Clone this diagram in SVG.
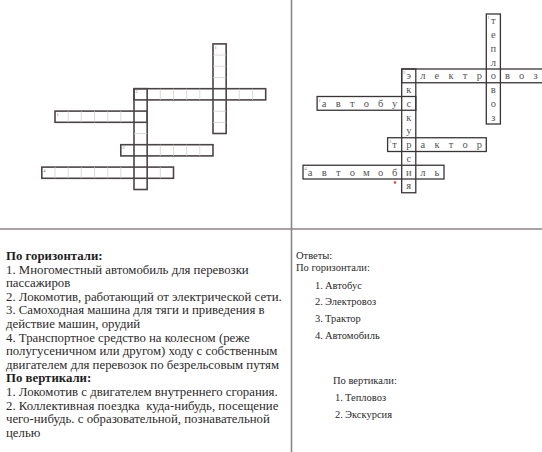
<svg xmlns="http://www.w3.org/2000/svg" width="542" height="452" viewBox="0 0 542 452">
<style>
.bg{fill:#ffffff}
.div{stroke:#8c8585;stroke-width:1.6;fill:none}
.lbox{fill:none;stroke:#4d4545;stroke-width:1.6}
.linner{stroke:#cfcaca;stroke-width:0.7}
.rbox{fill:none;stroke:#3a3535;stroke-width:1.3}
.lt{font-family:"Liberation Serif","DejaVu Serif",serif;font-size:10.5px;fill:#555;text-anchor:middle}
.num{font-family:"Liberation Serif",serif;font-size:4.5px;fill:#777}
.t{font-family:"Liberation Serif","DejaVu Serif",serif;font-size:12.8px;fill:#2b2b2b}
.tb{font-family:"Liberation Serif","DejaVu Serif",serif;font-size:12.8px;fill:#1e1e1e;font-weight:bold}
.r{font-family:"Liberation Serif","DejaVu Serif",serif;font-size:10.5px;fill:#2b2b2b}
</style>
<rect class="bg" x="0" y="0" width="542" height="452"/>

<g id="dividers">
<line class="div" x1="291.5" y1="0" x2="291.5" y2="452"/>
<line class="div" x1="0" y1="229" x2="542" y2="229"/>
</g>

<!-- Left blank crossword -->
<g id="left-grid">
<g id="l-teplovoz">
<rect class="lbox" x="213" y="43.9" width="13.17" height="89.6"/>
<path class="linner" d="M213 55.1h13.17M213 66.3h13.17M213 77.5h13.17M213 100.1h13.17M213 111.3h13.17M213 122.5h13.17"/>
<text class="num" x="214.5" y="48.5">1</text>
</g>
<g id="l-elektrovoz">
<rect class="lbox" x="134" y="88.7" width="131.7" height="11.2"/>
<path class="linner" d="M160.3 88.7v11.2M173.5 88.7v11.2M186.7 88.7v11.2M199.8 88.7v11.2M239.3 88.7v11.2M252.5 88.7v11.2"/>
<text class="num" x="135.5" y="93.3">2</text>
</g>
<g id="l-ekskursiya">
<rect class="lbox" x="134" y="88.7" width="13.17" height="100.8"/>
<path class="linner" d="M134 133.5h13.17M134 178.3h13.17"/>
</g>
<g id="l-avtobus">
<rect class="lbox" x="55" y="111.1" width="92.2" height="11.2"/>
<path class="linner" d="M68.2 111.1v11.2M81.3 111.1v11.2M94.5 111.1v11.2M107.7 111.1v11.2M120.8 111.1v11.2"/>
<text class="num" x="56.5" y="115.7">1</text>
</g>
<g id="l-traktor">
<rect class="lbox" x="120.8" y="144.7" width="92.2" height="11.2"/>
<path class="linner" d="M160.3 144.7v11.2M173.5 144.7v11.2M186.7 144.7v11.2M199.8 144.7v11.2"/>
<text class="num" x="122.3" y="149.3">3</text>
</g>
<g id="l-avtomobil">
<rect class="lbox" x="41.8" y="167.1" width="131.7" height="11.2"/>
<path class="linner" d="M55 167.1v11.2M68.2 167.1v11.2M81.3 167.1v11.2M94.5 167.1v11.2M107.7 167.1v11.2M120.8 167.1v11.2M160.3 167.1v11.2"/>
<text class="num" x="43.3" y="171.7">4</text>
</g>
</g>

<!-- Right solved crossword -->
<g id="right-grid">
<g id="r-teplovoz">
<rect class="rbox" x="486.3" y="14" width="14.1" height="110"/>
<text class="num" x="487.6" y="19">1</text>
<text class="lt" x="493.35" y="24.4">т</text>
<text class="lt" x="493.35" y="38.2">е</text>
<text class="lt" x="493.35" y="51.9">п</text>
<text class="lt" x="493.35" y="65.7">л</text>
<text class="lt" x="493.35" y="93.2">в</text>
<text class="lt" x="493.35" y="106.9">о</text>
<text class="lt" x="493.35" y="120.7">з</text>
</g>
<g id="r-elektrovoz">
<rect class="rbox" x="401.7" y="69" width="141" height="13.75"/>
<text class="num" x="403" y="74">2</text>
<text class="lt" x="408.75 422.85 436.95 451.05 465.15 479.25 493.35 507.45 521.55 535.65" y="79.4">электровоз</text>
</g>
<g id="r-ekskursiya">
<rect class="rbox" x="401.7" y="69" width="14.1" height="123.75"/>
<text class="lt" x="408.75" y="93.2">к</text>
<text class="lt" x="408.75" y="120.7">к</text>
<text class="lt" x="408.75" y="134.4">у</text>
<text class="lt" x="408.75" y="161.9">с</text>
<text class="lt" x="408.75" y="189.4">я</text>
</g>
<g id="r-avtobus">
<rect class="rbox" x="317.1" y="96.5" width="98.7" height="13.75"/>
<text class="num" x="318.4" y="101.5">1</text>
<text class="lt" x="324.15 338.25 352.35 366.45 380.55 394.65 408.75" y="106.9">автобус</text>
</g>
<g id="r-traktor">
<rect class="rbox" x="387.6" y="137.75" width="98.7" height="13.75"/>
<text class="num" x="388.9" y="142.75">3</text>
<text class="lt" x="394.65 408.75 422.85 436.95 451.05 465.15 479.25" y="148.1">трактор</text>
</g>
<g id="r-avtomobil">
<rect class="rbox" x="303" y="165.25" width="141" height="13.75"/>
<text class="num" x="304.3" y="170.25">4</text>
<text class="lt" x="310.05 324.15 338.25 352.35 366.45 380.55 394.65 408.75 422.85 436.95" y="175.6">автомобиль</text>
</g>
<circle cx="395" cy="182.5" r="1.2" fill="#d43a3a"/>
</g>

<!-- Questions -->
<g id="questions">
<text class="tb" x="6" y="260">По горизонтали:</text>
<text class="t" x="6" y="273.6">1. Многоместный автомобиль для перевозки</text>
<text class="t" x="6" y="287.2">пассажиров</text>
<text class="t" x="6" y="300.8">2. Локомотив, работающий от электрической сети.</text>
<text class="t" x="6" y="314.4">3. Самоходная машина для тяги и приведения в</text>
<text class="t" x="6" y="328">действие машин, орудий</text>
<text class="t" x="6" y="341.6">4. Транспортное средство на колесном (реже</text>
<text class="t" x="6" y="355.2">полугусеничном или другом) ходу с собственным</text>
<text class="t" x="6" y="368.8">двигателем для перевозок по безрельсовым путям</text>
<text class="tb" x="6" y="382.4">По вертикали:</text>
<text class="t" x="6" y="396">1. Локомотив с двигателем внутреннего сгорания.</text>
<text class="t" x="6" y="409.6" xml:space="preserve">2. Коллективная поездка  куда-нибудь, посещение</text>
<text class="t" x="6" y="423.2">чего-нибудь. с образовательной, познавательной</text>
<text class="t" x="6" y="436.8">целью</text>
</g>

<!-- Answers -->
<g id="answers">
<text class="r" x="296" y="258.5">Ответы:</text>
<text class="r" x="296" y="270.5">По горизонтали:</text>
<text class="r" x="315" y="288.5">1.</text><text class="r" x="325" y="288.5">Автобус</text>
<text class="r" x="315" y="305.2">2.</text><text class="r" x="325" y="305.2">Электровоз</text>
<text class="r" x="315" y="321.8">3.</text><text class="r" x="325" y="321.8">Трактор</text>
<text class="r" x="315" y="338.5">4.</text><text class="r" x="325" y="338.5">Автомобиль</text>
<text class="r" x="333" y="383.5">По вертикали:</text>
<text class="r" x="335" y="401.2">1.</text><text class="r" x="345" y="401.2">Тепловоз</text>
<text class="r" x="335" y="417.8">2.</text><text class="r" x="345" y="417.8">Экскурсия</text>
</g>
</svg>
